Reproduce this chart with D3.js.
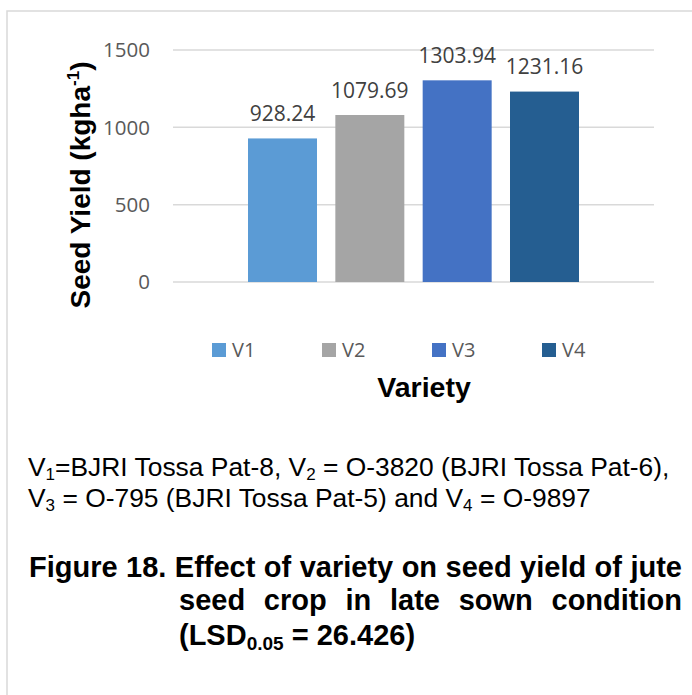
<!DOCTYPE html>
<html lang="en">
<head>
    <meta charset="UTF-8">
    <script src="https://d3js.org/d3.v7.min.js"></script>
    <title>Seed yield by variety</title>
    <style>
        html, body {
            margin: 0px;
            padding: 0px;
            background-color: #ffffff;
        }
        svg { display: block; }
    </style>
</head>
<body>
    <div id="chart"></div>
    <script>
        let varieties = ['V1', 'V2', 'V3', 'V4'];
        let yields = [928.24, 1079.69, 1303.94, 1231.16];
        let y_ticks = [0, 500, 1000, 1500];
        let colours = ['#5B9BD5', '#A5A5A5', '#4472C4', '#255E91'];

        let width = 692;
        let height = 695;

        let plot = { left: 173, right: 654, top: 50, bottom: 282 };

        let svg = d3.select('#chart').append('svg')
            .attr('width', width)
            .attr('height', height);

        // chart area border (only top and left show in the crop)
        svg.append('rect')
            .attr('x', 7).attr('y', 11)
            .attr('width', 800).attr('height', 800)
            .attr('fill', 'none')
            .attr('stroke', '#d9d9d9')
            .attr('stroke-width', 1.5);

        let y = d3.scaleLinear().domain([0, 1500]).range([plot.bottom, plot.top]);

        // one category, the four varieties as series
        let group = d3.scaleBand().domain(['all']).range([plot.left, plot.right])
            .paddingInner(0).paddingOuter(0.2266);
        let x = d3.scaleBand().domain(varieties)
            .range([group('all'), group('all') + group.bandwidth()])
            .paddingInner(0.21).paddingOuter(0);

        svg.append('g').selectAll('line')
            .data(y_ticks)
            .join('line')
            .attr('x1', plot.left).attr('x2', plot.right)
            .attr('y1', d => y(d)).attr('y2', d => y(d))
            .attr('stroke', '#d9d9d9')
            .attr('stroke-width', 1.5);

        svg.append('g').selectAll('text')
            .data(y_ticks)
            .join('text')
            .attr('x', 150)
            .attr('y', d => y(d))
            .attr('dy', '0.36em')
            .attr('text-anchor', 'end')
            .attr('font-family', 'Open Sans')
            .attr('font-size', 20.5)
            .attr('fill', '#595959')
            .text(d => d);

        svg.append('g').selectAll('rect')
            .data(yields)
            .join('rect')
            .attr('x', (d, i) => x(varieties[i]))
            .attr('width', x.bandwidth())
            .attr('y', d => y(d))
            .attr('height', d => y(0) - y(d))
            .attr('fill', (d, i) => colours[i]);

        svg.append('g').selectAll('text')
            .data(yields)
            .join('text')
            .attr('x', (d, i) => x(varieties[i]) + x.bandwidth() / 2)
            .attr('y', d => y(d) - 17.5)
            .attr('text-anchor', 'middle')
            .attr('font-family', 'Open Sans')
            .attr('font-size', 21)
            .attr('fill', '#404040')
            .text(d => d.toFixed(2));

        // y axis title
        let ytitle = svg.append('text')
            .attr('transform', 'translate(90,185) rotate(-90)')
            .attr('text-anchor', 'middle')
            .attr('font-family', 'Liberation Sans')
            .attr('font-weight', 'bold')
            .attr('font-size', 28)
            .attr('fill', '#000');
        ytitle.append('tspan').text('Seed Yield (kgha');
        ytitle.append('tspan').attr('font-size', 17).attr('dy', -11).text('-1');
        ytitle.append('tspan').attr('dy', 11).text(')');

        // legend
        let legend = svg.append('g').selectAll('g')
            .data(varieties)
            .join('g')
            .attr('transform', (d, i) => `translate(${212 + i * 110},343)`);
        legend.append('rect')
            .attr('width', 14).attr('height', 14)
            .attr('fill', (d, i) => colours[i]);
        legend.append('text')
            .attr('x', 20).attr('y', 14)
            .attr('font-family', 'Open Sans')
            .attr('font-size', 20)
            .attr('fill', '#595959')
            .text(d => d);

        svg.append('text')
            .attr('x', 424).attr('y', 397)
            .attr('text-anchor', 'middle')
            .attr('font-family', 'Liberation Sans')
            .attr('font-weight', 'bold')
            .attr('font-size', 28.5)
            .text('Variety');

        // caption with subscripts
        let caption_lines = [
            [['V', ''], ['1', 'sub'], ['=BJRI Tossa Pat-8, V', ''], ['2', 'sub'], [' = O-3820 (BJRI Tossa Pat-6),', '']],
            [['V', ''], ['3', 'sub'], [' = O-795 (BJRI Tossa Pat-5) and V', ''], ['4', 'sub'], [' = O-9897', '']]
        ];
        let caption_base = [476, 507];

        caption_lines.forEach((parts, li) => {
            let t = svg.append('text')
                .attr('x', 28).attr('y', caption_base[li])
                .attr('font-family', 'Liberation Sans')
                .attr('font-size', 26.4)
                .attr('fill', '#000');
            parts.forEach(p => {
                let sp = t.append('tspan').text(p[0]);
                if (p[1] === 'sub') {
                    sp.attr('font-size', 17).attr('dy', 4);
                } else {
                    sp.attr('dy', t.selectAll('tspan').size() > 1 ? -4 : 0);
                }
            });
        });

        // figure title, justified
        let title_lines = [
            { x: 29, y: 577, justify: true, parts: [['Figure 18. Effect of variety on seed yield of jute', '']] },
            { x: 179, y: 610, justify: true, parts: [['seed crop in late sown condition', '']] },
            { x: 179, y: 645, justify: false, parts: [['(LSD', ''], ['0.05', 'sub'], [' = 26.426)', '']] }
        ];
        let title_right = 682;

        title_lines.forEach(line => {
            let t = svg.append('text')
                .attr('x', line.x).attr('y', line.y)
                .attr('font-family', 'Liberation Sans')
                .attr('font-weight', 'bold')
                .attr('font-size', 29)
                .attr('fill', '#000');
            line.parts.forEach((p, i) => {
                let sp = t.append('tspan').text(p[0]);
                if (p[1] === 'sub') {
                    sp.attr('font-size', 19).attr('dy', 5);
                } else if (i > 0) {
                    sp.attr('dy', -5);
                }
            });
            if (line.justify) {
                let natural = t.node().getComputedTextLength();
                let spaces = line.parts[0][0].split(' ').length - 1;
                let extra = (title_right - line.x - natural) / spaces;
                t.attr('word-spacing', extra);
            }
        });
    </script>
</body>
</html>
